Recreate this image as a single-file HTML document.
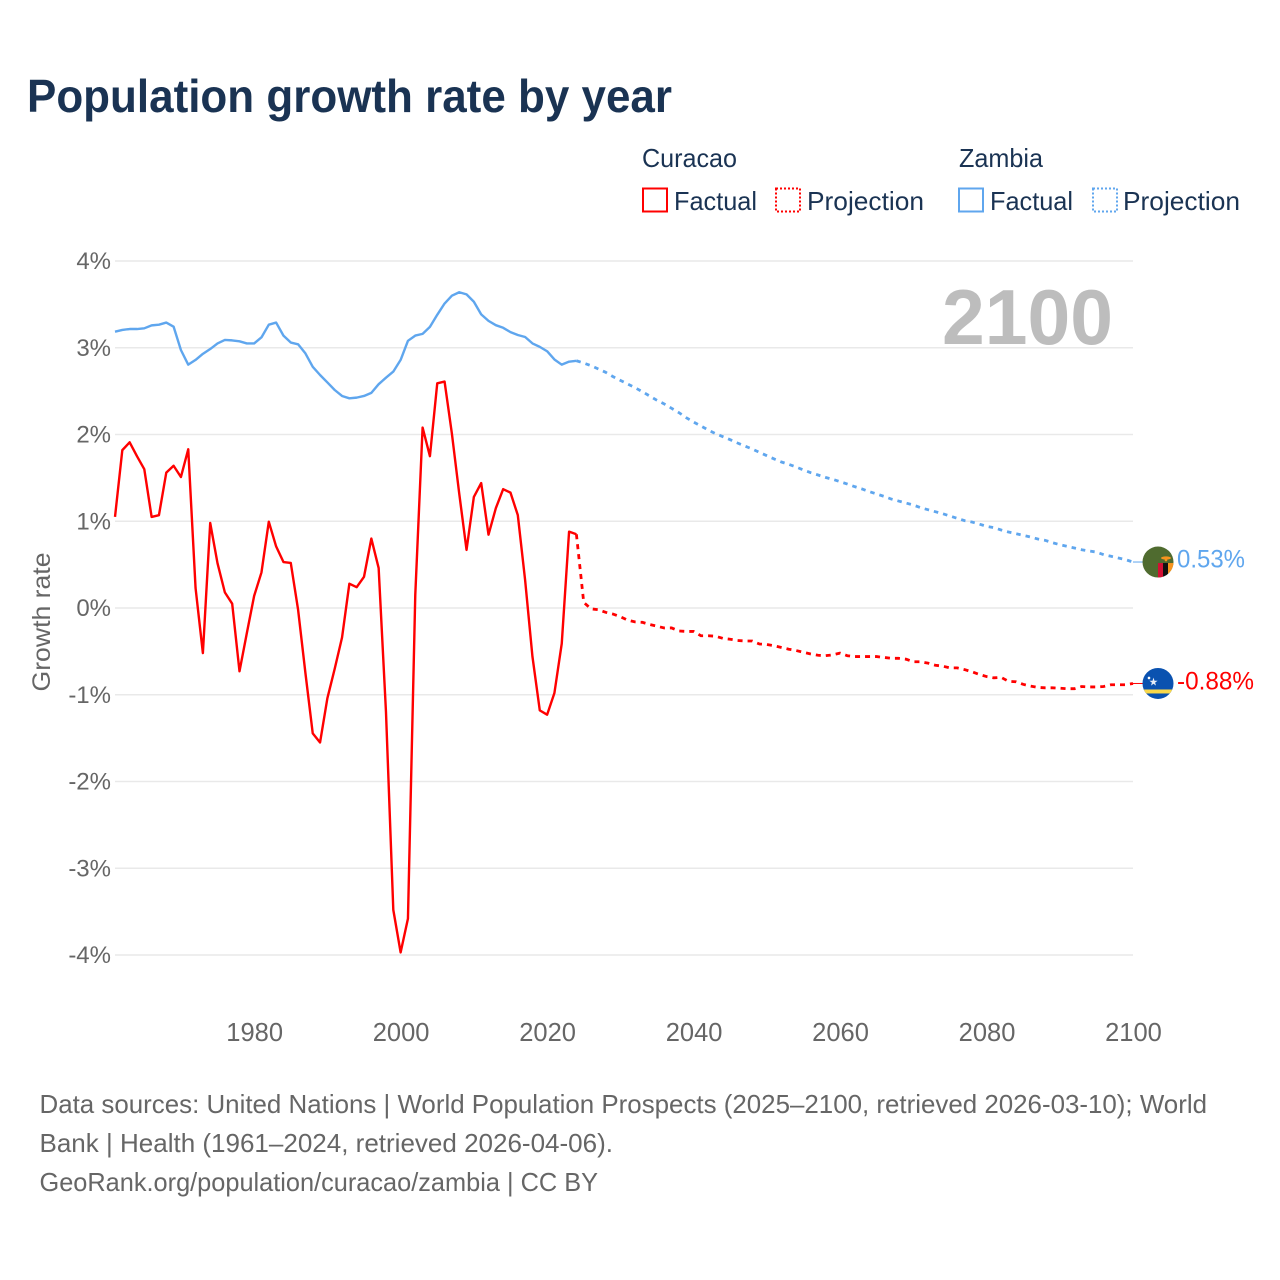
<!DOCTYPE html>
<html lang="en">
<head>
<meta charset="utf-8">
<title>Population growth rate by year</title>
<style>
html,body{margin:0;padding:0;background:#fff;}
svg{display:block;font-family:"Liberation Sans",sans-serif;}
</style>
</head>
<body>
<svg id="chart" width="1280" height="1280" viewBox="0 0 1280 1280" xmlns="http://www.w3.org/2000/svg">
  <rect x="0" y="0" width="1280" height="1280" fill="#fff"/>
  <text x="27" y="112" font-size="46" font-weight="bold" fill="#1a3353" textLength="645" lengthAdjust="spacingAndGlyphs">Population growth rate by year</text>

  <g font-size="26" fill="#1a3353">
    <text x="642" y="167" textLength="95" lengthAdjust="spacingAndGlyphs">Curacao</text>
    <rect x="643" y="188.5" width="24" height="23" fill="none" stroke="#ff0000" stroke-width="2"/>
    <text x="674" y="210" textLength="83" lengthAdjust="spacingAndGlyphs">Factual</text>
    <rect x="776" y="188.5" width="24" height="23" fill="none" stroke="#ff0000" stroke-width="2" stroke-dasharray="2 2"/>
    <text x="807" y="210" textLength="117" lengthAdjust="spacingAndGlyphs">Projection</text>
    <text x="959" y="167" textLength="84" lengthAdjust="spacingAndGlyphs">Zambia</text>
    <rect x="959" y="188.5" width="24" height="23" fill="none" stroke="#5fa6ee" stroke-width="2"/>
    <text x="990" y="210" textLength="83" lengthAdjust="spacingAndGlyphs">Factual</text>
    <rect x="1093" y="188.5" width="24" height="23" fill="none" stroke="#5fa6ee" stroke-width="2" stroke-dasharray="2 2"/>
    <text x="1123" y="210" textLength="117" lengthAdjust="spacingAndGlyphs">Projection</text>
  </g>

  <g id="grid"></g>
  <g id="y-ticks"></g>
  <g id="x-ticks"></g>

  <text x="0" y="0" transform="translate(50,622) rotate(-90)" text-anchor="middle" font-size="25" fill="#666" textLength="139" lengthAdjust="spacingAndGlyphs">Growth rate</text>

  <text x="942" y="344" font-size="78" font-weight="bold" fill="#bdbdbd" textLength="171" lengthAdjust="spacingAndGlyphs">2100</text>

  <g id="series"></g>

  <g id="end-labels"></g>

  <g id="flag-zambia">
    <clipPath id="zm-clip"><circle cx="15" cy="15" r="15.5"/></clipPath>
    <g clip-path="url(#zm-clip)">
      <rect x="-1" y="-1" width="32" height="32" fill="#4f6b2f"/>
      <rect x="15" y="16" width="5" height="15" fill="#d21034"/>
      <rect x="20" y="16" width="5" height="15" fill="#111"/>
      <rect x="25" y="16" width="6" height="15" fill="#f7941e"/>
      <ellipse cx="23" cy="11" rx="5" ry="1.6" fill="#f7941e"/>
      <circle cx="23" cy="13" r="1.3" fill="#f7941e"/>
    </g>
  </g>
  <g id="flag-curacao">
    <clipPath id="cw-clip"><circle cx="15" cy="15" r="15.5"/></clipPath>
    <g clip-path="url(#cw-clip)">
      <rect x="-1" y="-1" width="32" height="32" fill="#0a52b0"/>
      <rect x="-1" y="21" width="32" height="4" fill="#f9d84a"/>
      <circle cx="6" cy="9.5" r="1.3" fill="#fff"/>
      <polygon points="10.5,9.2 11.5,12.3 14.6,12.3 12.1,14.2 13,17.2 10.5,15.3 8,17.2 8.9,14.2 6.4,12.3 9.5,12.3" fill="#e8eef8"/>
    </g>
  </g>

  <g font-size="26" fill="#666">
    <text x="39.5" y="1113" textLength="1167.5" lengthAdjust="spacingAndGlyphs">Data sources: United Nations | World Population Prospects (2025–2100, retrieved 2026-03-10); World</text>
    <text x="39.5" y="1152" textLength="573.5" lengthAdjust="spacingAndGlyphs">Bank | Health (1961–2024, retrieved 2026-04-06).</text>
    <text x="39.5" y="1191" textLength="558.5" lengthAdjust="spacingAndGlyphs">GeoRank.org/population/curacao/zambia | CC BY</text>
  </g>
</svg>

<script>
// Chart data (percent per year)
const factualStartYear = 1961;
const projectionStartYear = 2024;
const yTickValues = [4, 3, 2, 1, 0, -1, -2, -3, -4];
const xTickYears = [1980, 2000, 2020, 2040, 2060, 2080, 2100];

const curacaoFactual = [
  1.05, 1.82, 1.91, 1.75, 1.60, 1.05, 1.07, 1.56, 1.64, 1.51,
  1.83, 0.23, -0.52, 0.98, 0.515, 0.18, 0.05, -0.73, -0.29, 0.14,
  0.41, 0.995, 0.71, 0.53, 0.52, -0.02, -0.75, -1.445, -1.55, -1.04,
  -0.70, -0.34, 0.28, 0.24, 0.36, 0.80, 0.46, -1.2, -3.48, -3.97,
  -3.58, 0.15, 2.08, 1.75, 2.59, 2.61, 2.01, 1.32, 0.67, 1.28,
  1.44, 0.845, 1.15, 1.37, 1.33, 1.07, 0.32, -0.56, -1.18, -1.23,
  -0.98, -0.41, 0.88, 0.85
];
const curacaoProjection = [
  0.85, 0.065, -0.01, -0.02, -0.05, -0.07, -0.10, -0.14, -0.16, -0.165,
  -0.19, -0.21, -0.23, -0.23, -0.265, -0.27, -0.27, -0.32, -0.32, -0.325,
  -0.35, -0.36, -0.375, -0.38, -0.38, -0.415, -0.42, -0.435, -0.455, -0.475,
  -0.49, -0.51, -0.53, -0.545, -0.55, -0.54, -0.52, -0.55, -0.56, -0.56,
  -0.56, -0.56, -0.57, -0.58, -0.58, -0.59, -0.62, -0.62, -0.635, -0.66,
  -0.67, -0.69, -0.69, -0.71, -0.735, -0.765, -0.79, -0.805, -0.80, -0.845,
  -0.85, -0.88, -0.90, -0.915, -0.92, -0.92, -0.925, -0.93, -0.93, -0.905,
  -0.91, -0.91, -0.905, -0.885, -0.885, -0.885, -0.87
];
const zambiaFactual = [
  3.185, 3.205, 3.216, 3.216, 3.224, 3.258, 3.266, 3.29, 3.243, 2.974,
  2.805, 2.86, 2.93, 2.985, 3.05, 3.09, 3.085, 3.074, 3.05, 3.05,
  3.12, 3.266, 3.29, 3.14, 3.06, 3.04, 2.935, 2.78, 2.686, 2.60,
  2.513, 2.444, 2.417, 2.425, 2.444, 2.48, 2.58, 2.655, 2.725, 2.86,
  3.08, 3.14, 3.16, 3.24, 3.38, 3.51, 3.60, 3.64, 3.615, 3.53,
  3.385, 3.31, 3.26, 3.23, 3.18, 3.147, 3.124, 3.05, 3.01, 2.96,
  2.865, 2.805, 2.84, 2.85
];
const zambiaProjection = [
  2.85, 2.824, 2.793, 2.755, 2.717, 2.667, 2.624, 2.582, 2.54, 2.494,
  2.444, 2.394, 2.352, 2.302, 2.252, 2.194, 2.144, 2.098, 2.052, 2.01,
  1.975, 1.94, 1.902, 1.867, 1.833, 1.794, 1.756, 1.718, 1.683, 1.656,
  1.625, 1.591, 1.56, 1.533, 1.506, 1.483, 1.456, 1.429, 1.399, 1.372,
  1.341, 1.314, 1.287, 1.256, 1.233, 1.21, 1.187, 1.157, 1.133, 1.11,
  1.087, 1.06, 1.034, 1.007, 0.991, 0.968, 0.941, 0.926, 0.899, 0.876,
  0.857, 0.838, 0.818, 0.795, 0.78, 0.753, 0.73, 0.711, 0.692, 0.672,
  0.657, 0.645, 0.615, 0.596, 0.576, 0.557, 0.53
];
const curacaoEndLabel = "-0.88%";
const zambiaEndLabel = "0.53%";

// Axis functions
const NS = "http://www.w3.org/2000/svg";
function xScale(year) { return 115 + (year - 1961) * (1133 - 115) / (2100 - 1961); }
function yScale(v) { return 608 - v * 86.75; }

function make(tag, parent, attrs) {
  const el = document.createElementNS(NS, tag);
  for (const k in attrs) el.setAttribute(k, attrs[k]);
  parent.appendChild(el);
  return el;
}
function linePoints(values, startYear) {
  return values.map((v, i) => xScale(startYear + i).toFixed(2) + "," + yScale(v).toFixed(2)).join(" ");
}

const gridG = document.getElementById("grid");
const yG = document.getElementById("y-ticks");
yTickValues.forEach(v => {
  const gl = make("line", gridG, { x1: xScale(1961), x2: xScale(2100), y1: yScale(v), y2: yScale(v), stroke: "#e9e9e9", "stroke-width": 1.4 });
  
  
  const t = make("text", yG, { x: 111, y: yScale(v) + 8, "text-anchor": "end", "font-size": 24, fill: "#666" });
  t.textContent = v + "%";
  
  
});

const xG = document.getElementById("x-ticks");
xTickYears.forEach(y => {
  const t = make("text", xG, { x: xScale(y) + 0.5, y: 1041, "text-anchor": "middle", "font-size": 25.5, fill: "#666" });
  t.textContent = y;
  
  
});

const seriesG = document.getElementById("series");
const RED = "#ff0000", BLUE = "#5fa6ee";

const zambiaFactualLine = make("polyline", seriesG, { points: linePoints(zambiaFactual, factualStartYear), fill: "none", stroke: BLUE, "stroke-width": 2.4, "stroke-linejoin": "round" });



const zambiaProjectionLine = make("polyline", seriesG, { points: linePoints(zambiaProjection, projectionStartYear), fill: "none", stroke: BLUE, "stroke-width": 2.8, "stroke-dasharray": "4.5 5" });



const curacaoFactualLine = make("polyline", seriesG, { points: linePoints(curacaoFactual, factualStartYear), fill: "none", stroke: RED, "stroke-width": 2.4, "stroke-linejoin": "round" });



const curacaoProjectionLine = make("polyline", seriesG, { points: linePoints(curacaoProjection, projectionStartYear), fill: "none", stroke: RED, "stroke-width": 2.8, "stroke-dasharray": "5 5" });



// End-of-line leaders, flags and value labels follow the last data point
const labelsG = document.getElementById("end-labels");
const zambiaLast = zambiaProjection[zambiaProjection.length - 1];
const curacaoLast = curacaoProjection[curacaoProjection.length - 1];
const endX = xScale(2100);

const zambiaLeader = make("line", labelsG, { x1: endX, x2: endX + 11, y1: yScale(zambiaLast), y2: yScale(zambiaLast), stroke: BLUE, "stroke-width": 1 });



const curacaoLeader = make("line", labelsG, { x1: endX, x2: endX + 11, y1: yScale(curacaoLast), y2: yScale(curacaoLast), stroke: RED, "stroke-width": 1 });



document.getElementById("flag-zambia").setAttribute("transform", "translate(" + (endX + 10) + "," + (yScale(zambiaLast) - 15) + ")");
document.getElementById("flag-curacao").setAttribute("transform", "translate(" + (endX + 10) + "," + (yScale(curacaoLast) - 15) + ")");

const zambiaText = make("text", labelsG, { x: 1177, y: yScale(zambiaLast) + 5.5, "font-size": 25, fill: BLUE, textLength: 68, lengthAdjust: "spacingAndGlyphs" });
zambiaText.textContent = zambiaEndLabel;



const curacaoText = make("text", labelsG, { x: 1177, y: yScale(curacaoLast) + 6, "font-size": 25, fill: RED, textLength: 77, lengthAdjust: "spacingAndGlyphs" });
curacaoText.textContent = curacaoEndLabel;


</script>
</body>
</html>
